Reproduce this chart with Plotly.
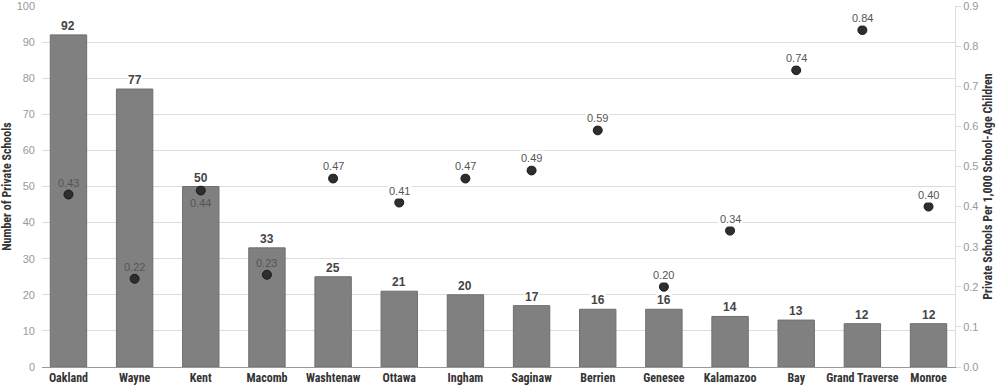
import plotly.graph_objects as go

counties = ["Oakland", "Wayne", "Kent", "Macomb", "Washtenaw", "Ottawa", "Ingham",
            "Saginaw", "Berrien", "Genesee", "Kalamazoo", "Bay", "Grand Traverse", "Monroe"]
schools = [92, 77, 50, 33, 25, 21, 20, 17, 16, 16, 14, 13, 12, 12]
rate = [0.43, 0.22, 0.44, 0.23, 0.47, 0.41, 0.47, 0.49, 0.59, 0.20, 0.34, 0.74, 0.84, 0.40]
rate_labels = ["0.43", "0.22", "0.44", "0.23", "0.47", "0.41", "0.47", "0.49", "0.59",
               "0.20", "0.34", "0.74", "0.84", "0.40"]
left_ticks = [0, 10, 20, 30, 40, 50, 60, 70, 80, 90, 100]
right_ticks = [0.0, 0.1, 0.2, 0.3, 0.4, 0.5, 0.6, 0.7, 0.8, 0.9]
right_tick_text = ["0.0", "0.1", "0.2", "0.3", "0.4", "0.5", "0.6", "0.7", "0.8", "0.9"]
left_max, right_max = 100, 0.9

cond = "Liberation Sans Narrow, Roboto Condensed, Arial Narrow, Liberation Sans, sans-serif"
reg = "Liberation Sans, Arial, sans-serif"

fig = go.Figure()
fig.add_trace(go.Bar(x=counties, y=schools, marker=dict(color="#808080", line=dict(color="#6e6e6e", width=1)),
                     width=0.55, yaxis="y", hoverinfo="x+y"))
fig.add_trace(go.Scatter(x=counties, y=rate, mode="markers", yaxis="y2",
                         marker=dict(color="#2e2e2e", size=9, line=dict(color="#1a1a1a", width=1))))

ann = []
for c, s in zip(counties, schools):
    ann.append(dict(x=c, y=s, xref="x", yref="y", text=f"<b>{s}</b>", showarrow=False,
                    yshift=9, font=dict(family=reg, size=12, color="#444"),
                    bgcolor="white", borderpad=0))
for c, s, r, lab in zip(counties, schools, rate, rate_labels):
    below = (c == "Kent")
    inside = (r / right_max) * left_max < s
    ann.append(dict(x=c, y=r, xref="x", yref="y2", text=lab, showarrow=False,
                    yshift=-12 if below else 12, font=dict(family=reg, size=11, color="#555"),
                    bgcolor="rgba(0,0,0,0)" if inside else "white", borderpad=1))

fig.update_layout(
    width=1000, height=391, margin=dict(l=42, r=45, t=6, b=24, autoexpand=False),
    paper_bgcolor="white", plot_bgcolor="white", showlegend=False,
    bargap=0.45,
    xaxis=dict(range=[-0.4, 13.4], showgrid=False, showline=True, linecolor="#999", linewidth=1,
               ticks="", tickfont=dict(family=cond, size=12, color="#333"), tickprefix="<b>", ticksuffix="</b>",
               automargin=False),
    yaxis=dict(range=[0, left_max], tickvals=left_ticks, showgrid=True, gridcolor="#dcdcdc", gridwidth=1,
               zeroline=False, showline=False, ticks="", tickfont=dict(family=reg, size=11, color="#999"),
               automargin=False, ticklabeloverflow="allow", ticklabelstandoff=6,
               title=dict(text="<b>Number of Private Schools</b>", font=dict(family=cond, size=12, color="#333"), standoff=2)),
    yaxis2=dict(range=[0, right_max], tickvals=right_ticks, ticktext=right_tick_text, overlaying="y", side="right",
                showgrid=False, zeroline=False, showline=True, linecolor="#ddd", linewidth=1,
                ticks="outside", ticklen=5, tickcolor="#ddd", automargin=False, ticklabeloverflow="allow",
                tickfont=dict(family=reg, size=11, color="#999"),
                title=dict(text="<b>Private Schools Per 1,000 School-Age Children</b>", font=dict(family=cond, size=12, color="#333"), standoff=6)),
    annotations=ann,
)
fig.write_html("out.html", config={"displayModeBar": False},
               post_script="document.body.style.margin='0';document.body.style.overflow='hidden';")
